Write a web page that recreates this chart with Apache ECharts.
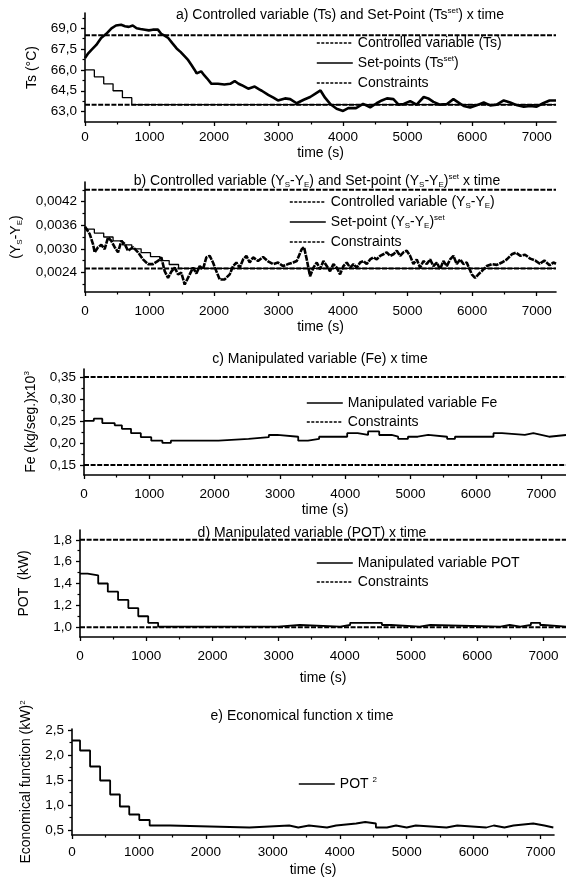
<!DOCTYPE html>
<html>
<head>
<meta charset="utf-8">
<script src="https://cdn.jsdelivr.net/npm/echarts@6/dist/echarts.min.js"></script>
<style>
  html, body { margin: 0; padding: 0; background: #fff; }
  #chart { width: 566px; height: 879px; }
</style>
</head>
<body>
<div id="chart"></div>
<script>
// ---- time axis (shared by all panels) ----
const timeTicks = [0, 1000, 2000, 3000, 4000, 5000, 6000, 7000];
const timeMinorTicks = [500, 1500, 2500, 3500, 4500, 5500, 6500];
const timeMax = [7300, 7300, 7380, 7340, 7200];

// ---- a) Ts ----
const tsTicks = [63, 64.5, 66, 67.5, 69];
const tsMinorTicks = [63.75, 65.25, 66.75, 68.25, 69.75];
const tsConstraints = [68.5, 63.5];
const tsSetPoint = [[0, 66], [145, 65.5], [290, 65], [435, 64.5], [580, 64], [725, 63.5], [7300, 63.5]];
const tsControlled = [
  [0, 66.85], [50, 67.2], [100, 67.45], [175, 67.8], [250, 68.3], [330, 68.6], [410, 69.0], [480, 69.2],
  [560, 69.25], [620, 69.15], [680, 69.1], [740, 69.2], [800, 69.0], [860, 68.95], [930, 68.9], [990, 68.85],
  [1050, 68.9], [1130, 68.9], [1180, 68.6], [1240, 68.45], [1290, 68.3], [1350, 67.95], [1420, 67.55], [1480, 67.3],
  [1550, 66.95], [1600, 66.7], [1650, 66.35], [1700, 66.0], [1730, 65.75], [1800, 65.9], [1850, 65.6], [1890, 65.4],
  [1960, 65.0], [2060, 65.0], [2160, 64.95], [2250, 65.0], [2320, 65.2], [2380, 65.0], [2430, 64.9], [2530, 64.65],
  [2630, 64.8], [2700, 64.6], [2740, 64.5], [2840, 64.2], [2920, 64.0], [2990, 63.8], [3100, 63.95], [3180, 63.9],
  [3280, 63.6], [3390, 63.85], [3490, 64.05], [3590, 64.35], [3650, 64.52], [3720, 64.0], [3800, 63.55], [3900, 63.2],
  [4000, 63.05], [4080, 63.25], [4200, 63.25], [4310, 63.55], [4420, 63.3], [4520, 63.6], [4600, 63.8], [4680, 63.95],
  [4780, 63.9], [4860, 63.5], [4940, 63.55], [5040, 63.75], [5140, 63.5], [5250, 64.05], [5320, 63.95], [5400, 63.7],
  [5500, 63.5], [5610, 63.55], [5710, 63.9], [5790, 63.65], [5870, 63.4], [5970, 63.3], [6070, 63.45], [6180, 63.65],
  [6280, 63.45], [6380, 63.5], [6490, 63.8], [6590, 63.65], [6700, 63.45], [6800, 63.35], [6900, 63.4], [7000, 63.35],
  [7100, 63.6], [7200, 63.8], [7300, 63.8]
];

// ---- b) Ys - Ye ----
const ysTicks = [0.0024, 0.0030, 0.0036, 0.0042];
const ysMinorTicks = [0.0021, 0.0027, 0.0033, 0.0039, 0.0045];
const ysConstraints = [0.0045, 0.0025];
const ysSetPoint = [[0, 0.0035], [145, 0.0034], [290, 0.0033], [435, 0.0032], [580, 0.0031], [725, 0.0030],
  [870, 0.0029], [1015, 0.0028], [1160, 0.0027], [1305, 0.0026], [1450, 0.0025], [7300, 0.0025]];
const ysControlled = [
  [0, 0.00356], [72, 0.00338], [124, 0.00312], [150, 0.00291], [202, 0.00304], [253, 0.0031], [305, 0.00299],
  [357, 0.00329], [408, 0.0032], [460, 0.00304], [512, 0.00291], [563, 0.0032], [615, 0.00312], [667, 0.00295],
  [744, 0.00304], [822, 0.00291], [899, 0.00273], [977, 0.00261], [1054, 0.00261], [1132, 0.00269], [1183, 0.00278],
  [1235, 0.00243], [1287, 0.00226], [1338, 0.00242], [1390, 0.00252], [1442, 0.00235], [1493, 0.00239], [1545, 0.00209],
  [1570, 0.00205], [1623, 0.00235], [1674, 0.00252], [1726, 0.00237], [1778, 0.00256], [1829, 0.00248], [1881, 0.00278],
  [1933, 0.00282], [1984, 0.00265], [2036, 0.00243], [2088, 0.00222], [2165, 0.00222], [2243, 0.00235], [2295, 0.00256],
  [2346, 0.00265], [2398, 0.00252], [2450, 0.00273], [2501, 0.00282], [2553, 0.00265], [2605, 0.00278], [2682, 0.00269],
  [2760, 0.00279], [2837, 0.00268], [2915, 0.00261], [2992, 0.00265], [3070, 0.00256], [3147, 0.00261], [3225, 0.00265],
  [3282, 0.00269], [3359, 0.00299], [3395, 0.00304], [3437, 0.00273], [3488, 0.0023], [3540, 0.00252], [3592, 0.00265],
  [3643, 0.00248], [3695, 0.00269], [3747, 0.00256], [3798, 0.00243], [3850, 0.00261], [3902, 0.00252], [3953, 0.00235],
  [4005, 0.00256], [4057, 0.00265], [4109, 0.00252], [4160, 0.00261], [4212, 0.00252], [4264, 0.00265], [4315, 0.00269],
  [4367, 0.00261], [4419, 0.00273], [4470, 0.00278], [4522, 0.00273], [4574, 0.00282], [4625, 0.00286], [4677, 0.00291],
  [4729, 0.00282], [4780, 0.00286], [4832, 0.00295], [4884, 0.00282], [4935, 0.00291], [4987, 0.00295], [5039, 0.00282],
  [5090, 0.00261], [5142, 0.00273], [5194, 0.00252], [5245, 0.00269], [5297, 0.00261], [5349, 0.00273], [5400, 0.00256],
  [5452, 0.00265], [5504, 0.00248], [5555, 0.00269], [5607, 0.00256], [5659, 0.00273], [5710, 0.00282], [5762, 0.00261],
  [5814, 0.00273], [5866, 0.00261], [5917, 0.00265], [5995, 0.00235], [6046, 0.00226], [6098, 0.00235], [6150, 0.00243],
  [6227, 0.00256], [6305, 0.00261], [6383, 0.00259], [6460, 0.00265], [6538, 0.00273], [6615, 0.00286], [6680, 0.0029],
  [6750, 0.00282], [6820, 0.00285], [6900, 0.00275], [6980, 0.0027], [7050, 0.00262], [7120, 0.0027], [7200, 0.00258],
  [7260, 0.00265], [7300, 0.00262]
];

// ---- c) Fe ----
const feTicks = [0.15, 0.20, 0.25, 0.30, 0.35];
const feMinorTicks = [0.175, 0.225, 0.275, 0.325];
const feConstraints = [0.35, 0.15];
const feValues = [
  [0, 0.25], [150, 0.255], [280, 0.245], [470, 0.24], [580, 0.232], [720, 0.222], [870, 0.213], [1030, 0.205],
  [1200, 0.2], [1330, 0.205], [2060, 0.209], [2520, 0.213], [2830, 0.218], [2960, 0.214], [3280, 0.205], [3430, 0.209],
  [3600, 0.214], [4030, 0.222], [4190, 0.218], [4350, 0.226], [4520, 0.218], [4710, 0.214], [4810, 0.209], [4960, 0.214],
  [5110, 0.218], [5270, 0.214], [5560, 0.209], [5680, 0.214], [6270, 0.222], [6400, 0.218], [6750, 0.222], [6880, 0.218],
  [7000, 0.214], [7120, 0.218], [7380, 0.218]
];

// ---- d) POT ----
const potTicks = [1.0, 1.2, 1.4, 1.6, 1.8];
const potMinorTicks = [1.1, 1.3, 1.5, 1.7];
const potConstraints = [1.8, 1.0];
const potValues = [
  [0, 1.49], [115, 1.475], [275, 1.40], [420, 1.325], [575, 1.25], [730, 1.175], [880, 1.10], [1030, 1.04],
  [1180, 1.005], [2990, 1.02], [3320, 1.005], [3930, 1.02], [4080, 1.04], [4560, 1.02], [4700, 1.005], [5130, 1.02],
  [5290, 1.005], [6350, 1.02], [6490, 1.005], [6650, 1.02], [6810, 1.04], [6950, 1.02], [7000, 1.005], [7340, 1.005]
];

// ---- e) economical function ----
const econTicks = [0.5, 1.0, 1.5, 2.0, 2.5];
const econMinorTicks = [0.75, 1.25, 1.75, 2.25];
const econValues = [
  [0, 2.29], [120, 2.09], [270, 1.77], [420, 1.49], [570, 1.21], [715, 0.97], [855, 0.81], [1005, 0.70],
  [1160, 0.59], [1465, 0.55], [2650, 0.59], [3245, 0.55], [3380, 0.59], [3540, 0.55], [3810, 0.59], [3945, 0.63],
  [4245, 0.66], [4380, 0.63], [4540, 0.55], [4705, 0.59], [4840, 0.55], [5000, 0.59], [5135, 0.55], [5595, 0.59],
  [5755, 0.55], [6190, 0.59], [6300, 0.55], [6460, 0.59], [6595, 0.63], [6890, 0.59], [7055, 0.55], [7190, 0.55]
];

const FONT = '"Liberation Sans", Arial, Helvetica, sans-serif';
const rich = {
  sup: { fontSize: 8, lineHeight: 8, verticalAlign: 'top', fontFamily: FONT, color: '#000' },
  sub: { fontSize: 8, lineHeight: 8, verticalAlign: 'bottom', fontFamily: FONT, color: '#000' }
};
const txt = (size) => ({ color: '#000', fontFamily: FONT, fontSize: size, fontWeight: 'normal', lineHeight: 16, rich: rich });

const grids = [
  { left: 85, top: 13, width: 471, height: 109 },
  { left: 85, top: 182, width: 471, height: 110 },
  { left: 84, top: 369, width: 482, height: 106 },
  { left: 80, top: 530, width: 486, height: 107 },
  { left: 72, top: 729, width: 482, height: 108 }
];

const panels = [
  { ymin: 62.25, ymax: 70.1, ticks: tsTicks, minor: tsMinorTicks, dec: 1, name: 'Ts (°C)', nameGap: 40, xMargin: 8, xNameGap: 23 },
  { ymin: 0.0019, ymax: 0.0047, ticks: ysTicks, minor: ysMinorTicks, dec: 4, name: '(Y{sub|S}-Y{sub|E})', nameGap: 61, xMargin: 12, xNameGap: 24 },
  { ymin: 0.127, ymax: 0.368, ticks: feTicks, minor: feMinorTicks, dec: 2, name: 'Fe (kg/seg.)x10{sup|3}', nameGap: 39, xMargin: 12, xNameGap: 25 },
  { ymin: 0.91, ymax: 1.89, ticks: potTicks, minor: potMinorTicks, dec: 1, name: 'POT  (kW)', nameGap: 48, xMargin: 12, xNameGap: 33 },
  { ymin: 0.40, ymax: 2.52, ticks: econTicks, minor: econMinorTicks, dec: 1, name: 'Economical function (kW){sup|2}', nameGap: 34, xMargin: 10, xNameGap: 27 }
];

const titles = [
  { text: 'a) Controlled variable (Ts) and Set-Point (Ts{sup|set}) x time', x: 340, y: 15 },
  { text: 'b) Controlled variable (Y{sub|S}-Y{sub|E}) and Set-point (Y{sub|S}-Y{sub|E}){sup|set} x time', x: 317, y: 181 },
  { text: 'c) Manipulated variable (Fe) x time', x: 320, y: 359 },
  { text: 'd) Manipulated variable (POT) x time', x: 312, y: 533 },
  { text: 'e) Economical function x time', x: 302, y: 716 }
];

const black = '#000';
const xAxes = [], yAxes = [];
panels.forEach(function (p, i) {
  xAxes.push({
    type: 'value', gridIndex: i, position: 'bottom', min: 0, max: timeMax[i],
    axisLine: { show: true, onZero: false, lineStyle: { color: black, width: 1.6 } },
    axisTick: { show: true, customValues: timeTicks, length: 4, lineStyle: { color: black, width: 1.3 } },
    axisLabel: {
      customValues: timeTicks, margin: p.xMargin, color: black, fontFamily: FONT, fontSize: 13.5,
      formatter: function (v) { return String(v); }
    },
    splitLine: { show: false },
    name: 'time (s)', nameLocation: 'middle', nameGap: p.xNameGap, nameTextStyle: txt(14)
  });
  yAxes.push({
    type: 'value', gridIndex: i, position: 'left', min: p.ymin, max: p.ymax,
    axisLine: { show: true, lineStyle: { color: black, width: 1.6 } },
    axisTick: { show: true, customValues: p.ticks, length: 4, lineStyle: { color: black, width: 1.3 } },
    axisLabel: {
      customValues: p.ticks, margin: 8, color: black, fontFamily: FONT, fontSize: 13.5,
      formatter: (function (d) { return function (v) { return v.toFixed(d).replace('.', ','); }; })(p.dec)
    },
    splitLine: { show: false },
    name: p.name, nameLocation: 'middle', nameGap: p.nameGap, nameTextStyle: txt(14)
  });
});
// minor tick overlays
panels.forEach(function (p, i) {
  xAxes.push({
    type: 'value', gridIndex: i, position: 'bottom', min: 0, max: timeMax[i],
    axisLine: { show: false }, axisLabel: { show: false }, splitLine: { show: false },
    axisTick: { show: true, customValues: timeMinorTicks, length: 2.5, lineStyle: { color: black, width: 1.2 } }
  });
  yAxes.push({
    type: 'value', gridIndex: i, position: 'left', min: p.ymin, max: p.ymax,
    axisLine: { show: false }, axisLabel: { show: false }, splitLine: { show: false },
    axisTick: { show: true, customValues: p.minor, length: 2.5, lineStyle: { color: black, width: 1.2 } }
  });
});

function line(name, gi, data, style, step) {
  return {
    type: 'line', name: name, xAxisIndex: gi, yAxisIndex: gi, data: data,
    symbol: 'none', step: step || false, silent: true,
    lineStyle: Object.assign({ color: black }, style)
  };
}
const consStyle = { width: 2, type: [5, 1.6] };
function constraintSeries(name, gi, values) {
  return values.map(function (c) { return line(name, gi, [[0, c], [timeMax[gi], c]], consStyle); });
}

const series = [].concat(
  [line('aCtrl', 0, tsControlled, { width: 2.6 })],
  [line('aSet', 0, tsSetPoint, { width: 1.3 }, 'end')],
  constraintSeries('aCons', 0, tsConstraints),
  [line('bCtrl', 1, ysControlled, { width: 2.6, type: [6, 1] })],
  [line('bSet', 1, ysSetPoint, { width: 1.3 }, 'end')],
  constraintSeries('bCons', 1, ysConstraints),
  [line('cFe', 2, feValues, { width: 1.8 }, 'end')],
  constraintSeries('cCons', 2, feConstraints),
  [line('dPot', 3, potValues, { width: 1.8 }, 'end')],
  constraintSeries('dCons', 3, potConstraints),
  [line('eObj', 4, econValues, { width: 1.8 }, 'end')]
);

const legendText = {
  aCtrl: 'Controlled variable (Ts)',
  aSet: 'Set-points (Ts{sup|set})',
  aCons: 'Constraints',
  bCtrl: 'Controlled variable (Y{sub|S}-Y{sub|E})',
  bSet: 'Set-point (Y{sub|S}-Y{sub|E}){sup|set}',
  bCons: 'Constraints',
  cFe: 'Manipulated variable Fe',
  cCons: 'Constraints',
  dPot: 'Manipulated variable POT',
  dCons: 'Constraints',
  eObj: 'POT {sup|2}'
};
const solidIcon = { color: black, width: 1.6, type: 'solid' };
const dashIcon = { color: black, width: 1.6, type: [3, 1.5] };
function legendBox(items, left, top, gap) {
  return {
    orient: 'vertical', left: left, top: top, padding: 0, itemGap: gap,
    itemWidth: 36, itemHeight: 12, selectedMode: false,
    itemStyle: { color: 'rgba(0,0,0,0)', borderWidth: 0 },
    data: items, formatter: function (n) { return legendText[n]; },
    textStyle: txt(14)
  };
}

const option = {
  animation: false,
  backgroundColor: '#fff',
  title: titles.map(function (t) {
    return { text: t.text, left: t.x, top: t.y - 8, textAlign: 'center', padding: 0, textStyle: txt(14) };
  }),
  grid: grids,
  xAxis: xAxes,
  yAxis: yAxes,
  legend: [
    legendBox([{ name: 'aCtrl', lineStyle: dashIcon }, { name: 'aSet', lineStyle: solidIcon }, { name: 'aCons', lineStyle: dashIcon }], 316, 35, 4),
    legendBox([{ name: 'bCtrl', lineStyle: dashIcon }, { name: 'bSet', lineStyle: solidIcon }, { name: 'bCons', lineStyle: dashIcon }], 289, 194, 4),
    legendBox([{ name: 'cFe', lineStyle: solidIcon }, { name: 'cCons', lineStyle: dashIcon }], 306, 395, 3),
    legendBox([{ name: 'dPot', lineStyle: solidIcon }, { name: 'dCons', lineStyle: dashIcon }], 316, 555, 3),
    legendBox([{ name: 'eObj', lineStyle: solidIcon }], 298, 776, 3)
  ],
  series: series
};

const chart = echarts.init(document.getElementById('chart'), null, { renderer: 'canvas' });
chart.setOption(option);
</script>
</body>
</html>
